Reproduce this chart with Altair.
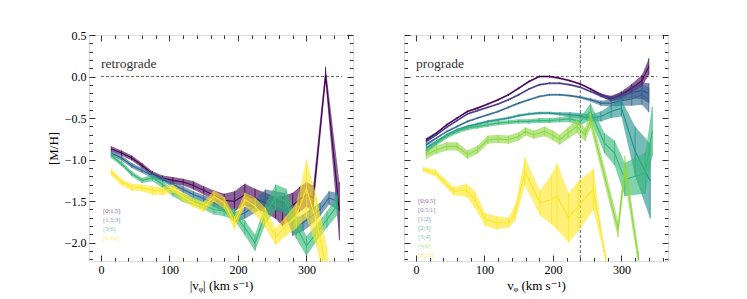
import altair as alt
import pandas as pd

# ---------------- data ----------------
ret_labels = ["[0;1.5]", "[1.5;3]", "[3;6]", "[6;10]"]
ret_colors = ["#440154", "#31688e", "#35b779", "#fde725"]

ret_x_1 = [15, 30, 45, 60, 75, 90, 105, 120, 135, 150, 165, 180, 195, 210, 225, 240, 255, 265, 280, 290, 300, 310, 328, 348]
ret_y_1 = [-0.87, -0.92, -0.98, -1.07, -1.17, -1.22, -1.25, -1.27, -1.31, -1.37, -1.43, -1.49, -1.50, -1.42, -1.47, -1.52, -1.58, -1.62, -1.55, -1.48, -1.42, -1.46, 0.02, -1.62]
ret_e_1 = [0.03, 0.03, 0.03, 0.03, 0.03, 0.03, 0.04, 0.04, 0.05, 0.05, 0.06, 0.08, 0.12, 0.13, 0.12, 0.12, 0.13, 0.18, 0.15, 0.15, 0.15, 0.15, 0.10, 0.35]

ret_x_2 = [15, 30, 45, 60, 75, 90, 105, 120, 135, 150, 165, 180, 195, 210, 225, 240, 255, 268, 280, 295, 305, 320, 333, 345]
ret_y_2 = [-0.92, -0.98, -1.07, -1.13, -1.19, -1.24, -1.30, -1.36, -1.42, -1.47, -1.52, -1.58, -1.70, -1.64, -1.56, -1.46, -1.50, -1.52, -1.82, -1.76, -1.70, -1.60, -1.46, -1.50]
ret_e_2 = [0.03, 0.03, 0.03, 0.03, 0.03, 0.03, 0.03, 0.04, 0.04, 0.04, 0.05, 0.05, 0.06, 0.07, 0.08, 0.10, 0.12, 0.12, 0.10, 0.10, 0.10, 0.08, 0.08, 0.10]

ret_x_3 = [15, 30, 45, 60, 75, 90, 105, 120, 135, 150, 165, 180, 195, 210, 225, 240, 255, 270, 285, 300, 315, 330, 345]
ret_y_3 = [-0.95, -1.05, -1.17, -1.25, -1.22, -1.30, -1.40, -1.46, -1.50, -1.55, -1.60, -1.62, -1.66, -1.82, -2.00, -1.66, -1.45, -1.50, -1.80, -2.04, -1.88, -1.72, -1.55]
ret_e_3 = [0.03, 0.03, 0.03, 0.03, 0.04, 0.04, 0.04, 0.05, 0.05, 0.05, 0.06, 0.06, 0.07, 0.09, 0.10, 0.12, 0.15, 0.15, 0.15, 0.12, 0.10, 0.10, 0.12]

ret_x_4 = [15, 30, 45, 60, 75, 90, 105, 120, 135, 150, 165, 180, 195, 210, 225, 240, 255, 270, 285, 300, 315, 330]
ret_y_4 = [-1.15, -1.27, -1.33, -1.34, -1.37, -1.38, -1.35, -1.45, -1.52, -1.57, -1.44, -1.52, -1.76, -1.48, -1.56, -1.70, -1.93, -1.80, -1.68, -1.35, -1.75, -2.35]
ret_e_4 = [0.04, 0.04, 0.04, 0.04, 0.05, 0.05, 0.05, 0.05, 0.05, 0.06, 0.07, 0.07, 0.08, 0.08, 0.10, 0.12, 0.10, 0.12, 0.15, 0.35, 0.30, 0.30]

pro_labels = ["[0;0.5]", "[0.5;1]", "[1;2]", "[2;3]", "[3;4]", "[4;6]", "[6;10]"]
pro_colors = ["#440154", "#443983", "#31688e", "#21918c", "#35b779", "#90d743", "#fde725"]

pro_x_1 = [15, 30, 45, 60, 75, 90, 105, 120, 135, 150, 165, 180, 195, 210, 225, 240, 255, 270, 285, 300, 315, 330, 340]
pro_y_1 = [-0.76, -0.68, -0.58, -0.50, -0.42, -0.38, -0.33, -0.28, -0.22, -0.14, -0.06, 0.0, 0.0, -0.02, -0.05, -0.09, -0.15, -0.22, -0.27, -0.22, -0.14, -0.05, 0.12]
pro_e_1 = [0.02, 0.012, 0.012, 0.012, 0.012, 0.012, 0.012, 0.012, 0.012, 0.012, 0.012, 0.012, 0.012, 0.012, 0.012, 0.012, 0.012, 0.02, 0.03, 0.04, 0.05, 0.07, 0.10]

pro_x_2 = [15, 30, 45, 60, 75, 90, 105, 120, 135, 150, 165, 180, 195, 210, 225, 240, 255, 270, 285, 300, 315, 330, 340]
pro_y_2 = [-0.78, -0.70, -0.61, -0.53, -0.45, -0.41, -0.37, -0.33, -0.28, -0.22, -0.15, -0.10, -0.08, -0.08, -0.10, -0.13, -0.18, -0.23, -0.26, -0.24, -0.19, -0.17, -0.20]
pro_e_2 = [0.02, 0.012, 0.012, 0.012, 0.012, 0.012, 0.012, 0.012, 0.012, 0.012, 0.012, 0.012, 0.012, 0.012, 0.012, 0.012, 0.012, 0.02, 0.03, 0.05, 0.07, 0.10, 0.12]

pro_x_3 = [15, 30, 45, 60, 75, 90, 105, 120, 135, 150, 165, 180, 195, 210, 225, 240, 255, 270, 285, 300, 315, 330, 340]
pro_y_3 = [-0.82, -0.74, -0.66, -0.60, -0.54, -0.50, -0.46, -0.42, -0.37, -0.32, -0.28, -0.24, -0.22, -0.22, -0.23, -0.25, -0.28, -0.32, -0.32, -0.29, -0.27, -0.22, -0.28]
pro_e_3 = [0.02, 0.012, 0.012, 0.012, 0.012, 0.012, 0.012, 0.012, 0.012, 0.012, 0.012, 0.012, 0.012, 0.012, 0.012, 0.015, 0.02, 0.03, 0.04, 0.06, 0.08, 0.12, 0.15]

pro_x_4 = [15, 30, 45, 60, 75, 90, 105, 120, 135, 150, 165, 180, 195, 210, 225, 240, 255, 270, 285, 300, 320, 342]
pro_y_4 = [-0.86, -0.78, -0.70, -0.64, -0.60, -0.57, -0.54, -0.52, -0.50, -0.47, -0.45, -0.44, -0.44, -0.45, -0.46, -0.47, -0.50, -0.48, -0.42, -0.38, -0.90, -1.26]
pro_e_4 = [0.02, 0.015, 0.015, 0.015, 0.015, 0.015, 0.015, 0.015, 0.015, 0.015, 0.015, 0.015, 0.015, 0.02, 0.03, 0.03, 0.04, 0.06, 0.08, 0.10, 0.30, 0.45]

pro_x_5 = [15, 30, 45, 60, 75, 90, 105, 120, 135, 150, 165, 180, 195, 210, 225, 240, 255, 275, 290, 305, 335, 345]
pro_y_5 = [-0.90, -0.80, -0.72, -0.66, -0.62, -0.60, -0.58, -0.56, -0.55, -0.54, -0.54, -0.53, -0.53, -0.52, -0.51, -0.54, -0.42, -0.80, -0.92, -1.24, -1.16, -0.66]
pro_e_5 = [0.03, 0.03, 0.025, 0.025, 0.025, 0.025, 0.025, 0.025, 0.025, 0.025, 0.025, 0.03, 0.03, 0.03, 0.04, 0.05, 0.10, 0.12, 0.15, 0.20, 0.25, 0.30]

pro_x_6 = [15, 30, 45, 60, 75, 90, 105, 120, 135, 150, 160, 172, 188, 200, 210, 222, 235, 247, 255, 295, 305, 325]
pro_y_6 = [-0.94, -0.88, -0.84, -0.84, -0.94, -0.88, -0.76, -0.75, -0.76, -0.72, -0.66, -0.70, -0.66, -0.71, -0.76, -0.68, -0.60, -0.70, -0.52, -1.84, -1.10, -2.20]
pro_e_6 = [0.05, 0.05, 0.05, 0.05, 0.05, 0.05, 0.05, 0.05, 0.05, 0.05, 0.05, 0.05, 0.06, 0.06, 0.06, 0.07, 0.08, 0.08, 0.10, 0.10, 0.15, 0.10]

pro_x_7 = [11, 28, 55, 74, 86, 101, 118, 135, 145, 159, 181, 198, 206, 223, 237, 259, 274, 282]
pro_y_7 = [-1.12, -1.16, -1.38, -1.37, -1.48, -1.72, -1.76, -1.76, -1.64, -1.14, -1.52, -1.48, -1.44, -1.70, -1.56, -1.36, -2.06, -2.40]
pro_e_7 = [0.03, 0.04, 0.05, 0.08, 0.10, 0.08, 0.08, 0.06, 0.10, 0.17, 0.15, 0.30, 0.40, 0.30, 0.30, 0.25, 0.05, 0.05]

ret_series = [(ret_x_1, ret_y_1, ret_e_1), (ret_x_2, ret_y_2, ret_e_2),
              (ret_x_3, ret_y_3, ret_e_3), (ret_x_4, ret_y_4, ret_e_4)]
pro_series = [(pro_x_1, pro_y_1, pro_e_1), (pro_x_2, pro_y_2, pro_e_2),
              (pro_x_3, pro_y_3, pro_e_3), (pro_x_4, pro_y_4, pro_e_4),
              (pro_x_5, pro_y_5, pro_e_5), (pro_x_6, pro_y_6, pro_e_6),
              (pro_x_7, pro_y_7, pro_e_7)]

x_major = [0, 100, 200, 300]
x_minor = [20, 40, 60, 80, 120, 140, 160, 180, 220, 240, 260, 280, 320, 340, 360]
y_major = [-2.0, -1.5, -1.0, -0.5, 0.0, 0.5]
y_minor = [-2.2, -2.1, -1.9, -1.8, -1.7, -1.6, -1.4, -1.3, -1.2, -1.1, -0.9, -0.8,
           -0.7, -0.6, -0.4, -0.3, -0.2, -0.1, 0.1, 0.2, 0.3, 0.4]

# ---------------- styling ----------------
XDOM = [-17.5, 368]
YDOM = [-2.22, 0.5]
W, H = 264, 226
FONT = "Liberation Serif, DejaVu Serif, serif"
xs = alt.Scale(domain=XDOM, nice=False, zero=False)
ys = alt.Scale(domain=YDOM, nice=False, zero=False)


def tick_axis(orient, values, size):
    return alt.Axis(orient=orient, offset=-(H if orient in ("top", "bottom") else W),
                    values=values, tickSize=size, tickColor="black", tickWidth=0.8,
                    labels=False, domain=False, grid=False, title=None)


def series_layers(x, y, e, color):
    df = pd.DataFrame({"x": x, "y": y,
                       "lo": [a - b for a, b in zip(y, e)],
                       "hi": [a + b for a, b in zip(y, e)]})
    base = alt.Chart(df)
    X = alt.X("x:Q", scale=xs, axis=None)
    band = base.mark_area(color=color, opacity=0.62, clip=True).encode(
        x=X, y=alt.Y("lo:Q", scale=ys, axis=None), y2="hi:Q")
    err = base.mark_rule(color=color, strokeWidth=0.8, clip=True).encode(
        x=X, y=alt.Y("lo:Q", scale=ys, axis=None), y2="hi:Q")
    line = base.mark_line(color=color, strokeWidth=1.1, clip=True).encode(
        x=X, y=alt.Y("y:Q", scale=ys, axis=None))
    return [band, err, line]


def panel(series, colors, labels, name, xtitle, left, vline=None):
    layers = []
    one = pd.DataFrame({"x": [0.0], "y": [0.0]})
    if left:
        ylab = alt.Axis(orient="left", values=y_major,
                        labelExpr="replace(format(datum.value, '.1f'), '-', '\u2212')",
                        ticks=False, domain=False,
                        grid=False, labelPadding=3, title="[M/H]", titlePadding=4,
                        labelFont=FONT, labelFontSize=12, titleFont=FONT, titleFontSize=13,
                        titleFontWeight="normal", labelColor="black", titleColor="black")
    else:
        ylab = None
    xlab = alt.Axis(orient="bottom", values=x_major, ticks=False, domain=False, grid=False,
                    labelPadding=3, title=xtitle, titlePadding=4, labelFont=FONT,
                    labelFontSize=12, titleFont=FONT, titleFontSize=13, titleFontWeight="normal",
                    labelColor="black", titleColor="black")
    axis_pairs = [
        (xlab, ylab),
        (tick_axis("top", x_major, 6), tick_axis("right", y_major, 6)),
        (tick_axis("top", x_minor, 3.5), tick_axis("right", y_minor, 3.5)),
        (tick_axis("bottom", x_major, 6), tick_axis("left", y_major, 6)),
        (tick_axis("bottom", x_minor, 3.5), tick_axis("left", y_minor, 3.5)),
    ]
    for ax_x, ax_y in axis_pairs:
        layers.append(alt.Chart(one).mark_point(opacity=0).encode(
            x=alt.X("x:Q", scale=xs, axis=ax_x), y=alt.Y("y:Q", scale=ys, axis=ax_y)))

    zero = pd.DataFrame({"x": [0.0], "x2": [352.0], "y": [0.0]})
    layers.append(alt.Chart(zero).mark_rule(color="#555555", strokeDash=[3, 2], strokeWidth=0.9).encode(
        x=alt.X("x:Q", scale=xs, axis=None), x2="x2:Q", y=alt.Y("y:Q", scale=ys, axis=None)))
    if vline is not None:
        vdf = pd.DataFrame({"x": [vline]})
        layers.append(alt.Chart(vdf).mark_rule(color="#555555", strokeDash=[3, 2], strokeWidth=0.9).encode(
            x=alt.X("x:Q", scale=xs, axis=None)))

    for (x, y, e), c in zip(series, colors):
        layers.extend(series_layers(x, y, e, c))

    layers.append(alt.Chart(one).mark_text(align="left", baseline="middle", font=FONT,
                                           fontSize=13.5, color="#333333").encode(
        x=alt.value(12), y=alt.value(29), text=alt.value(name)))
    y0 = 176 if left else 166
    for i, (lab, c) in enumerate(zip(labels, colors)):
        layers.append(alt.Chart(one).mark_text(align="left", baseline="middle", font=FONT,
                                               fontSize=6.5, color=c, opacity=0.65).encode(
            x=alt.value(14), y=alt.value(y0 + 9 * i), text=alt.value(lab)))

    return alt.layer(*layers).resolve_axis(x="independent", y="independent").properties(
        width=W, height=H)


left = panel(ret_series, ret_colors, ret_labels, "retrograde", "|vᵩ| (km s⁻¹)", True)
right = panel(pro_series, pro_colors, pro_labels, "prograde", "vᵩ (km s⁻¹)", False, vline=240)

chart = alt.hconcat(left, right, spacing=49).properties(
    padding={"left": 38, "top": 20, "right": 5, "bottom": 0}
).configure_view(stroke="black", strokeWidth=1.3).configure(background="white")

chart.save("out.html", embed_options={"renderer": "svg", "actions": False})
